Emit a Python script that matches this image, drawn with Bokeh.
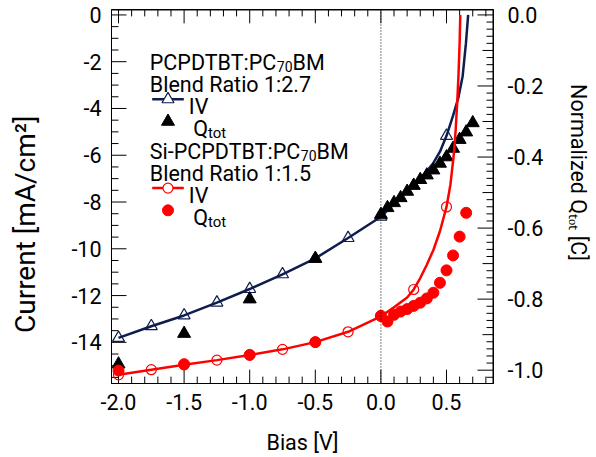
import math
from bokeh.plotting import figure
from bokeh.models import (Range1d, LinearAxis, SingleIntervalTicker,
                          PrintfTickFormatter, Label, Span)
from bokeh.embed import file_html
from bokeh.resources import INLINE

# ---------------- data ----------------
bias_iv = [-2.0, -1.75, -1.5, -1.25, -1.0, -0.75, -0.5, -0.25, 0.0, 0.25, 0.5]
pcpdtbt_iv = [-13.81, -13.31, -12.85, -12.30, -11.72, -11.09, -10.41, -9.54, -8.63, -7.30, -5.17]
si_iv = [-15.39, -15.17, -14.96, -14.76, -14.54, -14.30, -13.99, -13.55, -12.89, -11.74, -8.21]

pcpdtbt_curve_bias = [-2.0, -1.75, -1.5, -1.25, -1.0, -0.75, -0.5, -0.25, 0.0, 0.1, 0.2, 0.3,
                      0.35, 0.4, 0.45, 0.5, 0.55, 0.59, 0.623, 0.648, 0.665]
pcpdtbt_curve_j = [-13.81, -13.31, -12.85, -12.30, -11.72, -11.09, -10.41, -9.54, -8.63, -8.08,
                   -7.52, -6.98, -6.68, -6.33, -5.85, -5.17, -4.31, -3.55, -2.62, -1.22, 0.0]
si_curve_bias = [-2.0, -1.75, -1.5, -1.25, -1.0, -0.75, -0.5, -0.25, 0.0, 0.1, 0.2, 0.25, 0.3,
                 0.35, 0.4, 0.45, 0.5, 0.53, 0.555, 0.57, 0.582, 0.592, 0.6, 0.605]
si_curve_j = [-15.39, -15.17, -14.96, -14.76, -14.54, -14.30, -13.99, -13.55, -12.89, -12.50,
              -12.08, -11.74, -11.25, -10.68, -10.05, -9.25, -8.21, -7.25, -6.00, -4.90,
              -3.70, -2.50, -1.20, 0.0]

pcpdtbt_q_bias = [-2.0, -1.5, -1.0, -0.5, 0.0, 0.05, 0.1, 0.15, 0.2, 0.25, 0.3, 0.35, 0.4,
                  0.45, 0.5, 0.55, 0.6, 0.65, 0.7]
pcpdtbt_q = [-0.983, -0.897, -0.800, -0.686, -0.562, -0.543, -0.529, -0.515, -0.497, -0.480,
             -0.464, -0.451, -0.437, -0.418, -0.400, -0.376, -0.351, -0.330, -0.304]
si_q_bias = [-2.0, -1.5, -1.0, -0.5, 0.0, 0.05, 0.1, 0.15, 0.2, 0.25, 0.3, 0.35, 0.4, 0.45,
             0.5, 0.55, 0.6, 0.65]
si_q = [-1.001, -0.983, -0.957, -0.921, -0.847, -0.863, -0.844, -0.835, -0.828, -0.819,
        -0.810, -0.798, -0.782, -0.754, -0.719, -0.677, -0.624, -0.557]

# ---------------- layout ----------------
FONT = "Roboto"
FS = 21.5
NAVY = "#0f1c4d"
RED = "#ff0000"
TICK = "black"

X0, X1 = -2.0534, 0.8582
YL0, YL1 = -15.760, 0.232
YR0, YR1 = -1.0375, 0.0153

FW, FH = 596, 457
BL, BR, BT, BB = 111, 103, 9, 69
FRAME_W = FW - BL - BR
FRAME_H = FH - BT - BB
KX = FRAME_W / (X1 - X0)
KYL = FRAME_H / (YL1 - YL0)
KYR = FRAME_H / (YR1 - YR0)


def dx(rx):
    return X0 + (rx - BL) / KX


def dy(ry):
    return YL1 - (ry - BT) / KYL


# approximate Roboto advance widths (per 1000 em)
ADV = {' ': 248, '-': 276, '.': 263, '/': 412, ':': 236, '0': 562, '1': 562, '2': 562,
       '5': 562, '7': 562, 'A': 652, 'B': 624, 'C': 653, 'D': 657, 'M': 873, 'N': 698,
       'P': 630, 'Q': 688, 'R': 617, 'S': 601, 'T': 597, 'V': 637, '[': 266, ']': 266,
       'a': 544, 'c': 523, 'd': 548, 'e': 528, 'i': 242, 'l': 242, 'm': 855, 'n': 541,
       'o': 557, 'r': 338, 't': 326, 'u': 540, 'z': 518}


def tw(s, size):
    return sum(ADV.get(c, 556) for c in s) * size / 1000.0


p = figure(width=FW, height=FH, x_range=Range1d(X0, X1), y_range=Range1d(YL0, YL1),
           output_backend="svg", toolbar_location=None,
           min_border_left=BL, min_border_right=BR, min_border_top=BT, min_border_bottom=BB)
p.extra_y_ranges = {"q": Range1d(YR0, YR1)}
p.grid.visible = False
p.outline_line_color = "black"
p.outline_line_width = 1
p.background_fill_color = "white"
p.border_fill_color = "white"


def style_axis(ax, standoff, fmt):
    ax.axis_line_color = "black"
    ax.axis_line_width = 1
    ax.major_tick_in = 0
    ax.major_tick_out = 0
    ax.minor_tick_in = 0
    ax.minor_tick_out = 0
    ax.major_label_text_font = FONT
    ax.major_label_text_font_size = f"{FS}px"
    ax.major_label_text_color = "black"
    ax.major_label_standoff = standoff
    ax.formatter = PrintfTickFormatter(format=fmt)
    ax.axis_label_text_font = FONT
    ax.axis_label_text_font_style = "normal"
    ax.axis_label_text_color = "black"


NB = "\u00a0"
xa = p.xaxis[0]
xa.ticker = SingleIntervalTicker(interval=0.5, num_minor_ticks=5)
style_axis(xa, 10, "%.1f")
xa.axis_label = "Bias [V]"
xa.axis_label_text_font_size = f"{FS}px"
xa.axis_label_standoff = 17

ya = p.yaxis[0]
ya.ticker = SingleIntervalTicker(interval=2, num_minor_ticks=4)
style_axis(ya, 10, "%d")
ya.axis_label = "Current [mA/cm\u00b2]" + NB * 8
ya.axis_label_text_font_size = "28px"
ya.axis_label_standoff = 26

ra = LinearAxis(y_range_name="q")
ra.ticker = SingleIntervalTicker(interval=0.2, num_minor_ticks=10)
style_axis(ra, 14, "%.1f")
ra.axis_label = "Normalized Q\u209c\u2092\u209c [C]" + NB * 9
ra.axis_label_text_font_size = f"{FS}px"
ra.axis_label_standoff = 20
p.add_layout(ra, "right")


# ---------------- inward tick marks along the frame ----------------
def ticks(lo, hi, step):
    k0 = math.ceil(lo / step - 1e-9)
    k1 = math.floor(hi / step + 1e-9)
    return [(k, k * step) for k in range(k0, k1 + 1)]


xs, ys = [], []
for k, v in ticks(X0, X1, 0.1):
    L = 14 if k % 5 == 0 else 7
    xs.append([v, v]); ys.append([YL0, YL0 + L / KYL])
    xs.append([v, v]); ys.append([YL1, YL1 - L / KYL])
for k, v in ticks(YL0, YL1, 0.5):
    L = 15 if k % 4 == 0 else 7
    xs.append([X0, X0 + L / KX]); ys.append([v, v])
p.multi_line(xs=xs, ys=ys, line_color=TICK, line_width=1)

rxs, rys = [], []
for k, v in ticks(YR0, YR1, 0.02):
    L = 16 if k % 10 == 0 else (11 if k % 5 == 0 else 7)
    rxs.append([X1, X1 - L / KX]); rys.append([v, v])
p.multi_line(xs=rxs, ys=rys, line_color=TICK, line_width=1, y_range_name="q")

# top and right frame edges
p.add_layout(Span(location=YL1 - 0.5 / KYL, dimension="width", line_color="black",
                  line_width=1))
p.add_layout(Span(location=X1 - 0.5 / KX, dimension="height", line_color="black",
                  line_width=1))

p.add_layout(Span(location=0, dimension="height", line_color="black", line_width=1,
                  line_dash="1 2"))

# ---------------- data glyphs ----------------
p.line(pcpdtbt_curve_bias, pcpdtbt_curve_j, line_color=NAVY, line_width=2.5)
p.scatter(bias_iv, pcpdtbt_iv, marker="triangle", size=12, line_color=NAVY,
          fill_color=None, line_width=1.2)
p.scatter(pcpdtbt_q_bias, pcpdtbt_q, y_range_name="q", marker="triangle", size=13,
          fill_color="black", line_color="black")
p.line(si_curve_bias, si_curve_j, line_color=RED, line_width=2.5)
p.scatter(bias_iv, si_iv, marker="circle", size=10, line_color=RED, fill_color=None,
          line_width=1.2)
p.scatter(si_q_bias, si_q, y_range_name="q", marker="circle", size=11,
          fill_color=RED, line_color=RED)


# ---------------- legend texts ----------------
def txt(rx, ry, s, size=FS):
    p.add_layout(Label(x=dx(rx), y=dy(ry), text=s, text_font=FONT,
                       text_font_size=f"{size}px", text_color="black",
                       text_align="left", text_baseline="alphabetic"))


def compound(rx, ry, parts):
    x = rx
    for s, size, shift in parts:
        txt(x, ry + shift, s, size)
        x += tw(s, size)


LX = 149.3
rows = [62.5, 85.0, 107.5, 130.0, 152.5, 175.0, 197.5, 220.0]

compound(LX, rows[0], [("PCPDTBT:PC", FS, 0), ("70", 14, 4), ("BM", FS, 0)])
txt(LX, rows[1], "Blend Ratio 1:2.7")
compound(LX, rows[4], [("Si-PCPDTBT:PC", FS, 0), ("70", 14, 4), ("BM", FS, 0)])
txt(LX, rows[5], "Blend Ratio 1:1.5")

for ry, col, mk in [(rows[2] - 7.5, NAVY, "triangle"), (rows[6] - 7.5, RED, "circle")]:
    p.line([dx(151.7), dx(183.3)], [dy(ry), dy(ry)], line_color=col, line_width=2.5)
    p.scatter([dx(167.5)], [dy(ry)], marker=mk, size=12 if mk == "triangle" else 10,
              line_color=col, fill_color="white", line_width=1.2)
p.scatter([dx(167.5)], [dy(rows[3] - 7.5)], marker="triangle", size=13,
          fill_color="black", line_color="black")
p.scatter([dx(167.5)], [dy(rows[7] - 7.5)], marker="circle", size=11,
          fill_color=RED, line_color=RED)

txt(188.3, rows[2], "IV")
txt(188.3, rows[6], "IV")
for r in (rows[3], rows[7]):
    compound(192.7, r, [("Q", FS, 0), ("tot", 15, 4)])

open("out.html", "w").write(file_html(p, INLINE))
